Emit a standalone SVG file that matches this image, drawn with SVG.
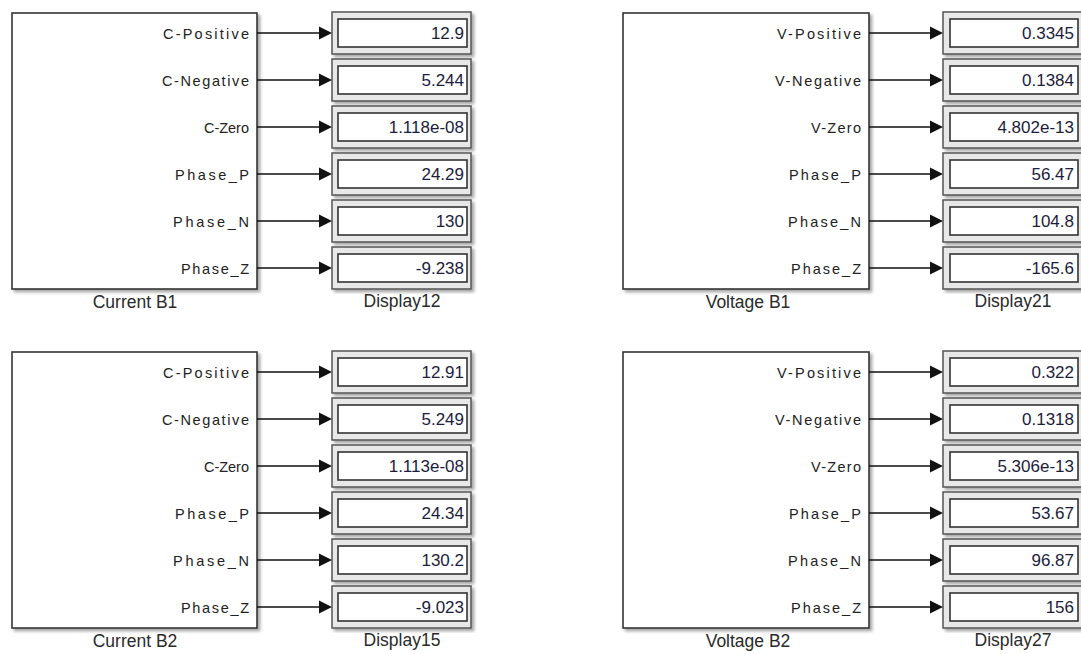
<svg xmlns="http://www.w3.org/2000/svg" width="1081" height="654" viewBox="0 0 1081 654">
<defs>
<filter id="sh" x="-5%" y="-5%" width="115%" height="115%">
<feDropShadow dx="2.5" dy="2.5" stdDeviation="1.5" flood-color="#000" flood-opacity="0.35"/>
</filter>
<style>
.blk{fill:#fff;stroke:#333;stroke-width:1.6;filter:url(#sh)}
.dout{fill:#e8e8e8;stroke:#555;stroke-width:1.5;filter:url(#sh)}
.din{fill:#fff;stroke:#333;stroke-width:1.6}
.port{font-family:"Liberation Sans",Arial,sans-serif;font-size:14.5px;fill:#222;text-anchor:end}
.val{font-family:"Liberation Sans",Arial,sans-serif;font-size:17px;fill:#1c1c3c;text-anchor:end}
.lbl{font-family:"Liberation Sans",Arial,sans-serif;font-size:17.5px;fill:#2a2a2a;text-anchor:middle}
.wire{stroke:#111;stroke-width:1.4;fill:none}
.head{fill:#111}
</style>
</defs>
<rect width="1081" height="654" fill="#fff"/>

<g id="current-b1">
<rect class="blk" x="12" y="13" width="245" height="276"/>
<text class="port" x="249" y="38.5" textLength="86" lengthAdjust="spacing">C-Positive</text>
<text class="port" x="249" y="85.5" textLength="87" lengthAdjust="spacing">C-Negative</text>
<text class="port" x="249" y="132.5" textLength="45" lengthAdjust="spacing">C-Zero</text>
<text class="port" x="249" y="179.5" textLength="74" lengthAdjust="spacing">Phase_P</text>
<text class="port" x="249" y="226.5" textLength="76" lengthAdjust="spacing">Phase_N</text>
<text class="port" x="249" y="273.5" textLength="68" lengthAdjust="spacing">Phase_Z</text>
<text class="lbl" x="135" y="308">Current B1</text>
</g>

<g id="display12">
<rect class="dout" x="332" y="12" width="139" height="42"/><rect class="din" x="338" y="19" width="129" height="28"/><text class="val" x="464" y="39">12.9</text>
<rect class="dout" x="332" y="59" width="139" height="42"/><rect class="din" x="338" y="66" width="129" height="28"/><text class="val" x="464" y="86">5.244</text>
<rect class="dout" x="332" y="106" width="139" height="42"/><rect class="din" x="338" y="113" width="129" height="28"/><text class="val" x="464" y="133">1.118e-08</text>
<rect class="dout" x="332" y="153" width="139" height="42"/><rect class="din" x="338" y="160" width="129" height="28"/><text class="val" x="464" y="180">24.29</text>
<rect class="dout" x="332" y="200" width="139" height="42"/><rect class="din" x="338" y="207" width="129" height="28"/><text class="val" x="464" y="227">130</text>
<rect class="dout" x="332" y="247" width="139" height="42"/><rect class="din" x="338" y="254" width="129" height="28"/><text class="val" x="464" y="274">-9.238</text>
<text class="lbl" x="402" y="307">Display12</text>
</g>

<g id="voltage-b1">
<rect class="blk" x="623" y="13" width="246" height="276"/>
<text class="port" x="861" y="38.5" textLength="84" lengthAdjust="spacing">V-Positive</text>
<text class="port" x="861" y="85.5" textLength="86" lengthAdjust="spacing">V-Negative</text>
<text class="port" x="861" y="132.5" textLength="50" lengthAdjust="spacing">V-Zero</text>
<text class="port" x="861" y="179.5" textLength="72" lengthAdjust="spacing">Phase_P</text>
<text class="port" x="861" y="226.5" textLength="73" lengthAdjust="spacing">Phase_N</text>
<text class="port" x="861" y="273.5" textLength="70" lengthAdjust="spacing">Phase_Z</text>
<text class="lbl" x="748" y="308">Voltage B1</text>
</g>

<g id="display21">
<rect class="dout" x="943" y="12" width="139" height="42"/><rect class="din" x="950" y="19" width="128" height="28"/><text class="val" x="1074" y="39">0.3345</text>
<rect class="dout" x="943" y="59" width="139" height="42"/><rect class="din" x="950" y="66" width="128" height="28"/><text class="val" x="1074" y="86">0.1384</text>
<rect class="dout" x="943" y="106" width="139" height="42"/><rect class="din" x="950" y="113" width="128" height="28"/><text class="val" x="1074" y="133">4.802e-13</text>
<rect class="dout" x="943" y="153" width="139" height="42"/><rect class="din" x="950" y="160" width="128" height="28"/><text class="val" x="1074" y="180">56.47</text>
<rect class="dout" x="943" y="200" width="139" height="42"/><rect class="din" x="950" y="207" width="128" height="28"/><text class="val" x="1074" y="227">104.8</text>
<rect class="dout" x="943" y="247" width="139" height="42"/><rect class="din" x="950" y="254" width="128" height="28"/><text class="val" x="1074" y="274">-165.6</text>
<text class="lbl" x="1013" y="307">Display21</text>
</g>

<g id="current-b2">
<rect class="blk" x="12" y="352" width="245" height="276"/>
<text class="port" x="249" y="377.5" textLength="86" lengthAdjust="spacing">C-Positive</text>
<text class="port" x="249" y="424.5" textLength="87" lengthAdjust="spacing">C-Negative</text>
<text class="port" x="249" y="471.5" textLength="45" lengthAdjust="spacing">C-Zero</text>
<text class="port" x="249" y="518.5" textLength="74" lengthAdjust="spacing">Phase_P</text>
<text class="port" x="249" y="565.5" textLength="76" lengthAdjust="spacing">Phase_N</text>
<text class="port" x="249" y="612.5" textLength="68" lengthAdjust="spacing">Phase_Z</text>
<text class="lbl" x="135" y="647">Current B2</text>
</g>

<g id="display15">
<rect class="dout" x="332" y="351" width="139" height="42"/><rect class="din" x="338" y="358" width="129" height="28"/><text class="val" x="464" y="378">12.91</text>
<rect class="dout" x="332" y="398" width="139" height="42"/><rect class="din" x="338" y="405" width="129" height="28"/><text class="val" x="464" y="425">5.249</text>
<rect class="dout" x="332" y="445" width="139" height="42"/><rect class="din" x="338" y="452" width="129" height="28"/><text class="val" x="464" y="472">1.113e-08</text>
<rect class="dout" x="332" y="492" width="139" height="42"/><rect class="din" x="338" y="499" width="129" height="28"/><text class="val" x="464" y="519">24.34</text>
<rect class="dout" x="332" y="539" width="139" height="42"/><rect class="din" x="338" y="546" width="129" height="28"/><text class="val" x="464" y="566">130.2</text>
<rect class="dout" x="332" y="586" width="139" height="42"/><rect class="din" x="338" y="593" width="129" height="28"/><text class="val" x="464" y="613">-9.023</text>
<text class="lbl" x="402" y="646">Display15</text>
</g>

<g id="voltage-b2">
<rect class="blk" x="623" y="352" width="246" height="276"/>
<text class="port" x="861" y="377.5" textLength="84" lengthAdjust="spacing">V-Positive</text>
<text class="port" x="861" y="424.5" textLength="86" lengthAdjust="spacing">V-Negative</text>
<text class="port" x="861" y="471.5" textLength="50" lengthAdjust="spacing">V-Zero</text>
<text class="port" x="861" y="518.5" textLength="72" lengthAdjust="spacing">Phase_P</text>
<text class="port" x="861" y="565.5" textLength="73" lengthAdjust="spacing">Phase_N</text>
<text class="port" x="861" y="612.5" textLength="70" lengthAdjust="spacing">Phase_Z</text>
<text class="lbl" x="748" y="647">Voltage B2</text>
</g>

<g id="display27">
<rect class="dout" x="943" y="351" width="139" height="42"/><rect class="din" x="950" y="358" width="128" height="28"/><text class="val" x="1074" y="378">0.322</text>
<rect class="dout" x="943" y="398" width="139" height="42"/><rect class="din" x="950" y="405" width="128" height="28"/><text class="val" x="1074" y="425">0.1318</text>
<rect class="dout" x="943" y="445" width="139" height="42"/><rect class="din" x="950" y="452" width="128" height="28"/><text class="val" x="1074" y="472">5.306e-13</text>
<rect class="dout" x="943" y="492" width="139" height="42"/><rect class="din" x="950" y="499" width="128" height="28"/><text class="val" x="1074" y="519">53.67</text>
<rect class="dout" x="943" y="539" width="139" height="42"/><rect class="din" x="950" y="546" width="128" height="28"/><text class="val" x="1074" y="566">96.87</text>
<rect class="dout" x="943" y="586" width="139" height="42"/><rect class="din" x="950" y="593" width="128" height="28"/><text class="val" x="1074" y="613">156</text>
<text class="lbl" x="1013" y="646">Display27</text>
</g>

<g id="connectors">
<path class="wire" d="M257 33H321M257 80H321M257 127H321M257 174H321M257 221H321M257 268H321M257 372H321M257 419H321M257 466H321M257 513H321M257 560H321M257 607H321"/>
<path class="wire" d="M869 33H932M869 80H932M869 127H932M869 174H932M869 221H932M869 268H932M869 372H932M869 419H932M869 466H932M869 513H932M869 560H932M869 607H932"/>
<path class="head" d="M319 26.5L332 33L319 39.5ZM319 73.5L332 80L319 86.5ZM319 120.5L332 127L319 133.5ZM319 167.5L332 174L319 180.5ZM319 214.5L332 221L319 227.5ZM319 261.5L332 268L319 274.5ZM319 365.5L332 372L319 378.5ZM319 412.5L332 419L319 425.5ZM319 459.5L332 466L319 472.5ZM319 506.5L332 513L319 519.5ZM319 553.5L332 560L319 566.5ZM319 600.5L332 607L319 613.5Z"/>
<path class="head" d="M930 26.5L943 33L930 39.5ZM930 73.5L943 80L930 86.5ZM930 120.5L943 127L930 133.5ZM930 167.5L943 174L930 180.5ZM930 214.5L943 221L930 227.5ZM930 261.5L943 268L930 274.5ZM930 365.5L943 372L930 378.5ZM930 412.5L943 419L930 425.5ZM930 459.5L943 466L930 472.5ZM930 506.5L943 513L930 519.5ZM930 553.5L943 560L930 566.5ZM930 600.5L943 607L930 613.5Z"/>
</g>
</svg>
